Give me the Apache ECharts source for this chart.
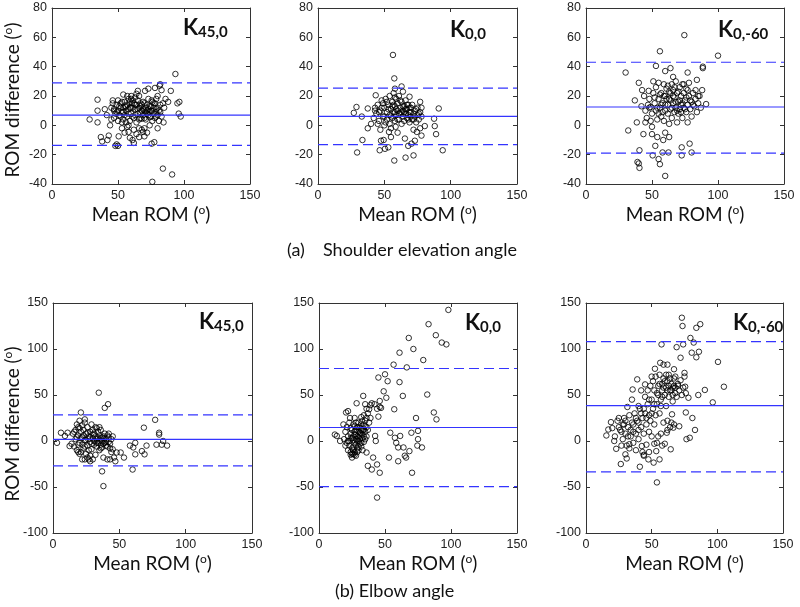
<!DOCTYPE html>
<html><head><meta charset="utf-8">
<script src="https://cdn.jsdelivr.net/npm/echarts@6/dist/echarts.min.js"></script>
<style>html,body{margin:0;padding:0;background:#fff}#c{width:800px;height:607px}</style>
</head><body><div id="c"></div>
<script>
// ---------- data ----------
const xTicks = [0, 50, 100, 150];
const shoulderYTicks = [-40, -20, 0, 20, 40, 60, 80];
const elbowYTicks = [-100, -50, 0, 50, 100, 150];
const panelSubscripts = ['45,0', '0,0', '0,-60'];
const captionTags = ['(a)', '(b)'];
const captionTexts = ['Shoulder elevation angle', 'Elbow angle'];

// mean difference and limits of agreement per panel
const shoulderMean = [7, 6.1, 12.5];
const shoulderUpper = [29, 25.4, 43];
const shoulderLower = [-13.6, -13.2, -18.9];
const elbowMean = [1.8, 14.7, 38.5];
const elbowUpper = [28.5, 78.8, 108];
const elbowLower = [-27, -49.5, -33.6];

const shoulderK45_0 = [[28.5,4],[34.5,17.5],[34.5,10],[34.5,2],[37,-8],[38,-11],[40,11],[41.5,7],[42,-10],[43,-7],[44,0],[45,4],[46,17],[47,10],[48,-14],[49,-13],[50,-14],[50.5,-7.5],[52,12],[53,2],[54,21],[55,7],[55.5,12.5],[57,-1],[58,-4.5],[59,-8.5],[60,18],[60.5,15],[61,-10],[62,-12],[63,7],[64,21.5],[65,23.5],[66,-2],[67,15],[68,4.5],[69,-4.5],[70,-7.5],[70.5,23.5],[72,10],[73,25],[74,5.5],[75.5,17],[75.5,-12.5],[76,-38.5],[77.5,-11.5],[78,25.5],[79,11],[80,-2],[81.5,27],[82,28],[83,24],[84,15],[84,-29.5],[84.5,2],[88,16],[90,23.5],[91,-33.5],[93.5,35],[95,15],[96.5,16],[96,8],[97.5,6],
[45,12],[46,15],[47,5],[48,8],[49,14],[50,3],[50,10],[51,13],[52,6],[52,15],[53,9],[54,4],[54,12],[55,16],[56,2],[56,10],[57,14],[57,6],[58,11],[58,18],[59,3],[59,16],[60,8],[60,20],[61,12],[61,17],[62,5],[62,15],[63,19],[63,11],[64,14],[64,2],[65,8],[65,17],[66,12],[66,20],[67,5],[67,9],[68,14],[68,-3],[69,11],[69,7],[70,10],[70,15],[70,-2],[71,12],[71,4],[72,8],[72,14],[72,-5],[73,11],[73,18],[74,9],[74,0],[75,13],[75,6],[76,10],[76,3],[77,12],[77,8],[78,15],[78,5],[79,9],[79,18],[80,12],[80,7],[81,10],[81,3],[82,14],[83,6],[62,-3],[64,-6],[66,-8],[58,0],[55,-5],[53,-2],
[47,11],[49,9],[51,7],[53,16],[56,13],[58,8],[60,12],[61,6],[63,14],[65,11],[67,13],[69,16],[71,9],[73,7],[75,10],[77,15],[79,6],[82,9],[85,12],[86,18],[57,20],[59,12],[66,4],[68,10],[70,5],[74,13],[76,16],[80,20],[54,9],[50,17]];

const shoulderK0_0 = [[27,8.5],[29,12.5],[29.5,-18.5],[33,6],[33.5,-10],[37.5,11.5],[37.5,-2],[40,1],[43,12],[43.5,20.5],[46.5,-17],[47.5,-10.5],[49.5,-10],[50.5,-16],[53,-15],[53.5,-4.5],[56.5,48],[57.5,-24],[57.5,32],[58,25],[58.5,-1],[63,26.5],[64,23],[65.5,-9],[66,-22],[68,-14],[69,19.5],[70.5,-12.5],[72,-20.5],[73,-10.5],[74.5,-4.5],[77,16],[78,-7],[80.5,-0.5],[87.5,4.5],[88,-0.5],[89,-6],[91,11.5],[94,-17],
[44,8],[45,14],[46,3],[47,10],[48,17],[49,6],[50,12],[50,0],[51,18],[52,9],[52,4],[53,14],[54,20],[54,7],[55,11],[55,-2],[56,16],[56,5],[57,22],[57,9],[58,13],[58,3],[59,18],[59,7],[60,10],[60,15],[61,4],[61,20],[62,8],[62,12],[63,1],[63,16],[64,6],[64,10],[65,13],[65,3],[66,8],[66,17],[67,5],[67,11],[68,7],[68,14],[69,2],[69,9],[70,6],[70,12],[71,4],[72,8],[72,-3],[73,6],[74,11],[74,2],[75,7],[76,4],[77,9],[77,-2],[78,6],[78,12],[47,-3],[55,-8],[60,-5],[45,1],[42,5],[43,10],
[46,9],[48,12],[50,6],[52,16],[53,11],[55,6],[56,13],[58,9],[59,11],[60,4],[61,8],[62,17],[64,13],[65,9],[67,14],[68,4],[70,9],[71,14],[73,10],[75,12],[76,8],[51,2],[57,14],[63,9],[66,11],[69,12],[72,4],[49,15],[54,1],[58,19]];

const shoulderK0_60 = [[30,36],[32,-3.5],[37,17],[38.5,2],[40,29],[40.5,-17],[39,-25],[40,-26],[40.5,-29],[42.5,24],[43.5,-6],[47.5,23.5],[49,12.5],[50,-1],[50.5,-20.5],[51,30],[52.5,-14],[53,40.5],[54,-8],[55,-23],[56,-26.5],[56,50.5],[58,-18.5],[58.5,-10],[60,-34.5],[60,37],[62.5,-18.5],[64,39],[66,33],[72.5,-15],[72.5,-20.5],[74.5,61.5],[77,36],[78.5,-12.5],[80,-18.5],[84,31],[88.5,40],[88.5,39],[88,24],[91,14.5],[100,47.5],
[45,10],[46,5],[47,14],[48,18],[49,3],[50,8],[51,22],[52,15],[53,10],[53,26],[54,4],[55,18],[55,29],[56,12],[57,6],[57,22],[58,15],[59,28],[59,3],[60,10],[60,20],[61,25],[62,8],[62,14],[63,18],[63,1],[64,22],[64,11],[65,28],[65,5],[66,15],[66,24],[67,9],[67,19],[68,30],[68,12],[69,2],[69,22],[70,8],[70,16],[71,26],[71,11],[72,14],[72,20],[73,5],[73,28],[74,12],[74,22],[75,17],[76,9],[76,25],[77,14],[77,2],[78,20],[78,29],[79,11],[80,16],[80,6],[81,22],[82,13],[83,18],[84,9],[85,15],[86,20],[87,12],[60,-5],[63,-8],[50,-6],[45,2],[42,13],[44,20],
[52,19],[54,12],[56,21],[58,9],[60,14],[61,18],[62,27],[64,17],[65,12],[66,20],[67,26],[68,16],[69,10],[70,23],[71,17],[72,9],[73,15],[74,28],[75,11],[76,19],[77,24],[79,17],[81,14],[83,24],[85,20],[57,14],[59,20],[63,23],[48,12],[55,8]];

const elbowK45_0 = [[3,-2],[6,9],[9,5.5],[11,9],[12.5,-5.5],[21,31],[24,23.5],[26.5,2],[28,-16],[34.5,52.5],[37,-33],[38,-49],[39,36],[41.5,40],[43,-20],[45,-9],[48,-12.5],[51,-12.5],[53.5,-18],[58,-5],[60,-31],[60.5,-7],[62,-2],[62,-14.5],[67,-11],[68.5,14.5],[69,-14.5],[70.5,-5],[77,23],[78,-4],[80,9],[80,7],[82,-4],[83,0],[86,-5],
[14,-3],[15,8],[16,-6],[17,12],[17,2],[18,18],[18,-10],[19,6],[19,15],[20,-2],[20,22],[21,10],[21,-12],[22,4],[22,17],[23,-8],[23,12],[24,1],[24,20],[25,-14],[25,8],[26,15],[26,-5],[27,5],[27,-20],[28,10],[28,-1],[29,18],[29,-9],[30,3],[30,12],[31,-4],[31,8],[32,-15],[32,15],[33,2],[33,-6],[34,10],[34,-2],[35,6],[35,-10],[36,3],[36,-4],[36,12],[37,0],[37,-7],[38,5],[38,-18],[39,-2],[39,8],[40,2],[40,-5],[41,6],[41,-20],[42,-1],[42,4],[43,-8],[44,2],[44,-12],[45,5],[46,-18],[47,-22],[26,-18],[30,-20],[22,-20],[19,-12],[33,14],[35,15],
[16,10],[18,4],[19,-4],[20,14],[21,3],[22,-4],[23,6],[24,-6],[25,1],[26,9],[27,-10],[28,4],[29,-3],[30,7],[31,0],[32,5],[33,-2],[34,3],[35,0],[36,-8],[37,4],[38,-3],[39,3],[40,-1],[41,-6],[42,8],[43,-3],[20,-14],[24,-20],[28,-22]];

const elbowK0_0 = [[12,7],[13.5,5.5],[16,0],[18.5,18],[20.5,31],[22,32.5],[23.5,25],[28.5,41],[32.5,21.5],[33.5,49],[35,40],[36,-12.5],[37,-27],[38,34.5],[40,41],[40,-31],[41,-18],[42.5,5.5],[43,0],[44,-25.5],[44,-61.5],[45,26.5],[45,69],[46,43.5],[46,-34.5],[47,36],[49,54],[50,72.5],[51,47],[52,65],[53,-18],[54,9],[56.5,83],[57,34.5],[57.5,3.5],[58.5,-2],[60,-7],[60,-22],[61,96],[61,64],[61.5,5.5],[63.5,49],[64,-7],[65,-16],[66,-18],[66.5,80],[68,112],[68.5,-11],[70,9],[70.5,-34.5],[71.5,100],[73.5,25],[75,11],[75,2],[74.5,-5],[78,-7],[79,88],[82,50.5],[83,127],[87,31],[88.5,115],[89,23.5],[93,107],[96.5,105],[98,142.5],
[19,2],[20,-5],[20,10],[21,15],[21,-2],[22,5],[22,-10],[23,20],[23,0],[24,8],[24,-15],[25,3],[25,12],[25,-18],[26,-6],[26,18],[26,1],[27,7],[27,-12],[27,25],[28,2],[28,12],[28,-4],[29,15],[29,-8],[29,5],[30,0],[30,20],[30,10],[31,-3],[31,6],[31,14],[32,8],[32,-6],[32,26],[33,12],[33,3],[34,18],[34,-1],[35,10],[35,22],[36,5],[36,15],[37,30],[37,12],[38,20],[39,25],[26,-14],[27,-15],[28,-16],[30,-10],[24,-12],[34,28],[36,35],[39,39],[42,40],[44,35],[46,37],
[22,0],[23,-5],[24,3],[25,-8],[26,5],[27,-2],[27,10],[28,7],[29,0],[29,-12],[30,4],[30,-6],[31,2],[31,9],[32,-2],[32,12],[33,7],[33,-10],[34,5],[34,12],[35,16],[26,-10],[25,-14],[28,20],[30,15],[32,18],[35,2],[36,25],[24,14],[27,16]];

const elbowK0_60 = [[15.5,6],[17,12.5],[19,20.5],[21.5,0],[23,-8.5],[25,25],[26.5,-25],[30,-14.5],[31,-19],[31.5,37],[33,-3.5],[35,45],[35.5,56],[39,67],[40,38],[41,-28],[42.5,-5.5],[44,-16],[45,61.5],[47.5,-20],[50,70],[51.5,-23.5],[52.5,78.5],[53.5,-11],[54,-45],[56,-20],[56.5,85],[57.5,105],[59,83],[61.5,9],[62,83],[64.5,-9],[65.5,29],[66.5,14.5],[67,78],[69,102],[71,16],[72,90.5],[73,134],[73.5,125],[74,105],[75,74],[75.5,59],[76,31],[76.5,2],[78,47],[79,3.5],[79.5,112],[80.5,96],[81,25],[82,107],[83,12],[84,123],[84,91],[85.5,50],[86,97],[87,127],[90.5,55.5],[96.5,42],[100.5,86],[105,59],
[20,14],[22,5],[24,22],[26,12],[27,-5],[28,18],[28,2],[29,25],[30,8],[31,-5],[32,15],[33,28],[33,-8],[34,5],[35,20],[36,-2],[36,10],[37,30],[38,8],[38,-10],[39,22],[40,12],[40,2],[41,35],[42,15],[42,55],[43,25],[43,-12],[44,8],[45,48],[45,30],[46,18],[46,-4],[47,55],[47,40],[48,28],[48,10],[49,60],[49,22],[50,45],[50,5],[51,35],[51,65],[52,55],[52,18],[53,28],[53,70],[54,40],[54,-2],[55,60],[55,50],[56,30],[56,72],[57,45],[57,8],[58,62],[58,55],[59,20],[59,68],[60,50],[60,-3],[61,58],[61,38],[62,65],[62,22],[63,48],[63,72],[64,55],[64,15],[65,62],[66,50],[66,43],[67,68],[67,18],[68,58],[68,70],[69,48],[70,62],[71,55],[72,66],[73,50],[74,58],[75,70],[76,52],[44,-15],[48,-12],[55,5],[58,-5],[52,-3],[62,12],[65,20],
[25,15],[27,10],[29,18],[30,22],[32,5],[34,12],[36,18],[38,25],[40,20],[42,30],[44,35],[46,25],[48,45],[50,30],[52,40],[54,52],[56,62],[58,48],[60,65],[62,55],[64,68],[66,58],[68,52],[70,60],[57,38],[59,58],[61,72],[63,60],[65,55],[67,60]];

// ---------- chart ----------
const panels = [
  {data: shoulderK45_0, ticks: shoulderYTicks, mean: shoulderMean[0], up: shoulderUpper[0], lo: shoulderLower[0], sub: panelSubscripts[0]},
  {data: shoulderK0_0,  ticks: shoulderYTicks, mean: shoulderMean[1], up: shoulderUpper[1], lo: shoulderLower[1], sub: panelSubscripts[1]},
  {data: shoulderK0_60, ticks: shoulderYTicks, mean: shoulderMean[2], up: shoulderUpper[2], lo: shoulderLower[2], sub: panelSubscripts[2]},
  {data: elbowK45_0, ticks: elbowYTicks, mean: elbowMean[0], up: elbowUpper[0], lo: elbowLower[0], sub: panelSubscripts[0]},
  {data: elbowK0_0,  ticks: elbowYTicks, mean: elbowMean[1], up: elbowUpper[1], lo: elbowLower[1], sub: panelSubscripts[1]},
  {data: elbowK0_60, ticks: elbowYTicks, mean: elbowMean[2], up: elbowUpper[2], lo: elbowLower[2], sub: panelSubscripts[2]}
];
const gridPos = [
  {left: 52, top: 8, width: 198, height: 176},
  {left: 318, top: 8, width: 199, height: 176},
  {left: 586, top: 8, width: 198, height: 176},
  {left: 53, top: 303, width: 199, height: 230},
  {left: 319, top: 303, width: 198, height: 230},
  {left: 586, top: 303, width: 197, height: 230}
];
const kPos = [[183,28],[450,30],[718,30],[199,322],[465,323],[733,323]];

const tickFont = "'Liberation Sans',Arial,sans-serif";
const nameFont = "Lato,'Open Sans',sans-serif";
const axisColor = '#333';
const lineBlue = '#3434ff';

const grid = [], xAxis = [], yAxis = [], series = [], graphic = [];
const nameRich = {
  n: {fontFamily: nameFont, fontSize: 19, color: '#111', lineHeight: 22},
  s: {fontFamily: nameFont, fontSize: 12, color: '#111', lineHeight: 22, verticalAlign: 'top'}
};
panels.forEach((p, i) => {
  grid.push(Object.assign({containLabel: false}, gridPos[i]));
  const yMin = p.ticks[0], yMax = p.ticks[p.ticks.length - 1], yInt = p.ticks[1] - p.ticks[0];
  const xMin = xTicks[0], xMax = xTicks[xTicks.length - 1], xInt = xTicks[1] - xTicks[0];
  const common = () => ({
    axisLine: {show: true, onZero: false, lineStyle: {color: axisColor, width: 1}},
    axisTick: {show: true, inside: true, length: 4, lineStyle: {color: axisColor}},
    splitLine: {show: false}
  });
  xAxis.push(Object.assign({
    type: 'value', gridIndex: i, position: 'bottom', min: xMin, max: xMax, interval: xInt,
    axisLabel: {fontFamily: tickFont, fontSize: 12.5, color: '#222', margin: 5},
    name: '{n|Mean ROM (}{s|o}{n|)}', nameLocation: 'middle', nameGap: 20,
    nameTextStyle: {rich: nameRich}
  }, common()));
  xAxis.push(Object.assign({
    type: 'value', gridIndex: i, position: 'top', min: xMin, max: xMax, interval: xInt,
    axisLabel: {show: false}
  }, common()));
  yAxis.push(Object.assign({
    type: 'value', gridIndex: i, position: 'left', min: yMin, max: yMax, interval: yInt,
    axisLabel: {fontFamily: tickFont, fontSize: 12.5, color: '#222', margin: 5}
  }, common()));
  yAxis.push(Object.assign({
    type: 'value', gridIndex: i, position: 'right', min: yMin, max: yMax, interval: yInt,
    axisLabel: {show: false}
  }, common()));
  series.push({
    type: 'scatter', xAxisIndex: 2 * i, yAxisIndex: 2 * i, data: p.data,
    symbol: 'circle', symbolSize: 5.5, z: 3,
    itemStyle: {color: 'rgba(0,0,0,0)', borderColor: '#000', borderWidth: 1},
    silent: true, animation: false
  });
  [[p.mean, 'solid'], [p.up, [10, 5]], [p.lo, [10, 5]]].forEach(([v, t]) => {
    series.push({
      type: 'line', xAxisIndex: 2 * i, yAxisIndex: 2 * i, z: 4,
      data: [[xMin, v], [xMax, v]], symbol: 'none', silent: true, animation: false,
      lineStyle: {color: lineBlue, width: 1.2, type: t}
    });
  });
  graphic.push({
    type: 'text', x: kPos[i][0], y: kPos[i][1], silent: true,
    style: {
      text: '{k|K}{s|' + p.sub + '}', verticalAlign: 'middle', align: 'left',
      rich: {
        k: {fontFamily: nameFont, fontWeight: 'bold', fontSize: 22, fill: '#111', lineHeight: 24},
        s: {fontFamily: nameFont, fontWeight: 'bold', fontSize: 15, fill: '#111', lineHeight: 24, verticalAlign: 'bottom'}
      }
    }
  });
});
// y axis names
[[13, 100], [13, 424]].forEach(pos => {
  graphic.push({
    type: 'text', x: pos[0], y: pos[1], rotation: Math.PI / 2, silent: true,
    style: {
      text: '{n|ROM difference (}{s|o}{n|)}', align: 'center', verticalAlign: 'middle',
      rich: {
        n: {fontFamily: nameFont, fontSize: 19, fill: '#111', lineHeight: 22},
        s: {fontFamily: nameFont, fontSize: 12, fill: '#111', lineHeight: 22, verticalAlign: 'top'}
      }
    }
  });
});
// captions
const capStyle = {verticalAlign: 'middle', align: 'left', fontFamily: nameFont, fontSize: 18, fill: '#111'};
graphic.push({type: 'text', x: 287, y: 250, silent: true, style: Object.assign({text: captionTags[0]}, capStyle)});
graphic.push({type: 'text', x: 323, y: 250, silent: true, style: Object.assign({text: captionTexts[0]}, capStyle)});
graphic.push({type: 'text', x: 335, y: 591, silent: true, style: Object.assign({text: captionTags[1] + ' ' + captionTexts[1]}, capStyle)});

const chart = echarts.init(document.getElementById('c'), null, {renderer: 'canvas'});
chart.setOption({
  backgroundColor: '#fff', animation: false,
  grid, xAxis, yAxis, series, graphic
});
</script></body></html>
